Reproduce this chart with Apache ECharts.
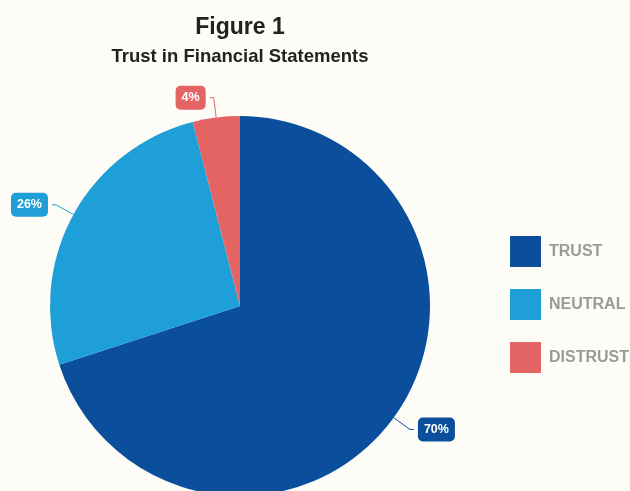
<!DOCTYPE html>
<html>
<head>
<meta charset="utf-8">
<script src="https://cdn.jsdelivr.net/npm/echarts@6/dist/echarts.min.js"></script>
<style>
  html, body { margin: 0; padding: 0; background: #fdfcf7; }
  #chart { width: 630px; height: 491px; }
</style>
</head>
<body>
<div id="chart"></div>
<script>
// Survey responses on trust in financial statements (percent)
const categories = ['TRUST', 'NEUTRAL', 'DISTRUST'];
const shares = [70, 26, 4];
const colors = ['#0b4f9c', '#1e9fd8', '#e46464'];

const chart = echarts.init(document.getElementById('chart'));
const font = "'Liberation Sans', Arial, Helvetica, sans-serif";

chart.setOption({
  backgroundColor: '#fdfcf7',
  color: colors,
  animation: false,
  title: {
    text: 'Figure 1',
    subtext: 'Trust in Financial Statements',
    left: 235,
    top: 11,
    textAlign: 'center',
    itemGap: 8,
    textStyle: { fontFamily: font, fontSize: 23, fontWeight: 'bold', color: '#222' },
    subtextStyle: { fontFamily: font, fontSize: 18.5, fontWeight: 'bold', color: '#222' }
  },
  legend: {
    orient: 'vertical',
    left: 505,
    top: 231,
    itemWidth: 31,
    itemHeight: 31,
    itemGap: 22,
    icon: 'rect',
    data: categories,
    textStyle: { fontFamily: font, fontSize: 16, fontWeight: 'bold', color: '#9a9a9a', padding: [0, 0, 0, 3] }
  },
  series: [{
    type: 'pie',
    center: [240, 306],
    radius: [0, 190],
    startAngle: 90,
    clockwise: true,
    bleedMargin: 0,
    data: categories.map((name, i) => ({
      name,
      value: shares[i],
      label: { backgroundColor: colors[i] },
      labelLine: { lineStyle: { color: colors[i] } }
    })),
    label: {
      show: true,
      formatter: '{c}%',
      fontFamily: font,
      fontSize: 12.5,
      fontWeight: 'bold',
      color: '#fff',
      overflow: 'none',
      distanceToLabelLine: 4,
      padding: [6, 6, 5, 6],
      borderRadius: 5
    },
    labelLine: { show: true, length: 20, length2: 4, lineStyle: { width: 1 } }
  }]
});
</script>
</body>
</html>
